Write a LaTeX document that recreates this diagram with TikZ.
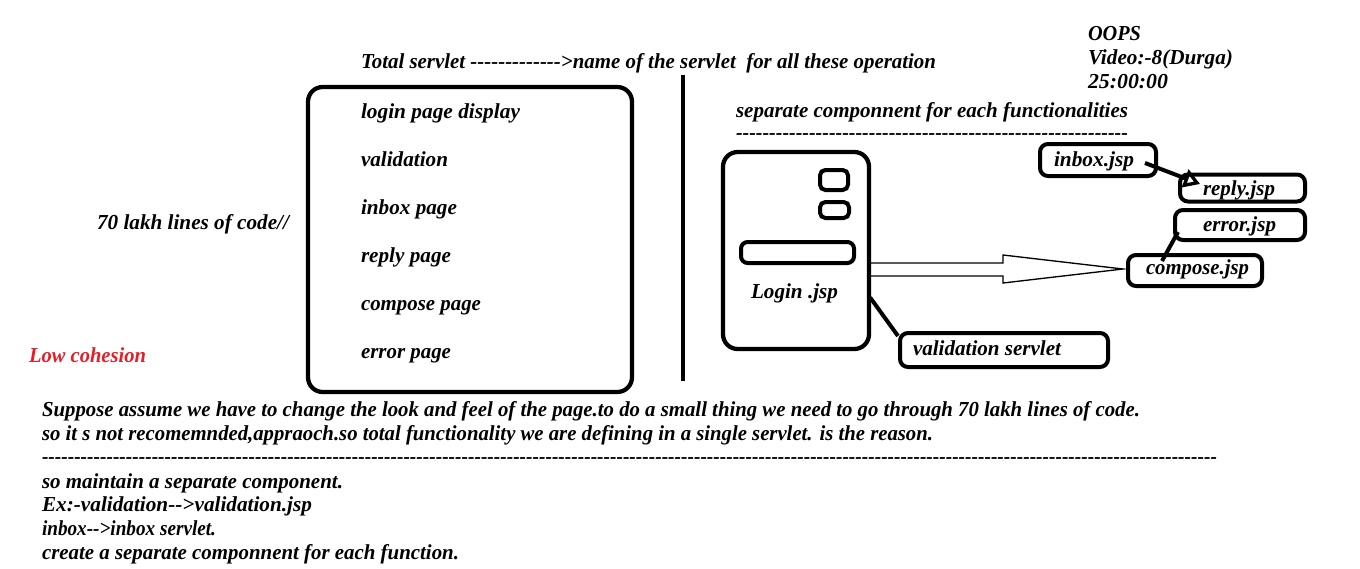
\documentclass[tikz,border=0pt]{standalone}
\usepackage{fontspec}
\setmainfont{Liberation Serif}[Ligatures=TeXOff]
\usepackage{graphicx}
\usetikzlibrary{arrows.meta,calc}
\definecolor{lowred}{RGB}{228,30,42}
\newsavebox\fitbox
\newcommand\fitto[2]{\sbox\fitbox{#2}\pgfmathsetmacro\myfac{(#1)*0.75/\wd\fitbox}\scalebox{\myfac}[1]{\usebox\fitbox}}
\tikzset{
  txt/.style={anchor=base west,inner sep=0pt,outer sep=0pt,font=\fontsize{16}{19}\selectfont\bfseries\itshape},
  bigbox/.style={draw,line width=3.2pt,rounded corners=11pt,inner sep=0pt},
  jbox/.style={draw,line width=3pt,rounded corners=6pt,inner sep=0pt},
  thk/.style={line width=3pt},
}
\begin{document}
\begin{tikzpicture}[x=0.75pt,y=-0.75pt]
\useasboundingbox (0,0) rectangle (1360,568);
% header
\node[txt] (title) at (361,68) {\fitto{575}{Total servlet ------------->name of the servlet\ \ for all these operation}};
\node[txt] (oops) at (1088,40) {\fitto{53}{OOPS}};
\node[txt] (video) at (1088,64) {\fitto{145}{Video:-8(Durga)}};
\node[txt] (time) at (1088,88) {\fitto{80}{25:00:00}};
% left box
\node[bigbox,minimum width=324*0.75pt,minimum height=305*0.75pt] (servlet) at (470,239.5) {};
\node[txt] (i1) at (361,118) {\fitto{159}{login page display}};
\node[txt] (i2) at (361,166) {\fitto{87}{validation}};
\node[txt] (i3) at (361,214) {\fitto{96}{inbox page}};
\node[txt] (i4) at (361,262) {\fitto{90}{reply page}};
\node[txt] (i5) at (361,310) {\fitto{120}{compose page}};
\node[txt] (i6) at (361,358) {\fitto{90}{error page}};
\node[txt] (lakh) at (97,229) {\fitto{192}{70 lakh lines of code//}};
\node[txt,text=lowred] (low) at (29,362) {\fitto{117}{Low cohesion}};
% divider
\coordinate (dtop) at (683,75);
\coordinate (dbot) at (683,381);
\draw[line width=3pt] (dtop) -- (dbot);
% right side
\node[txt] (sep) at (736,117) {\fitto{392}{separate componnent for each functionalities}};
\node[txt] (sepd) at (736,139) {\fitto{392}{-----------------------------------------------------------}};
\node[bigbox,minimum width=146*0.75pt,minimum height=197*0.75pt] (login) at (796,250.5) {};
\node[jbox,rounded corners=4pt,minimum width=28*0.75pt,minimum height=20*0.75pt] (b1) at (834,180) {};
\node[jbox,rounded corners=4pt,minimum width=29*0.75pt,minimum height=16*0.75pt] (b2) at (834.5,210) {};
\node[jbox,rounded corners=5pt,minimum width=113*0.75pt,minimum height=21*0.75pt] (b3) at (797.5,252.5) {};
\node[txt] (logint) at (751,298) {\fitto{87}{Login .jsp}};
\node[jbox,minimum width=208*0.75pt,minimum height=34*0.75pt] (valid) at (1004,350) {};
\node[txt] (validt) at (913,355) {\fitto{148}{validation servlet}};
\node[jbox,minimum width=116*0.75pt,minimum height=32*0.75pt] (inbox) at (1098,160) {};
\node[txt] (inboxt) at (1054,166) {\fitto{80}{inbox.jsp}};
\node[jbox,minimum width=125*0.75pt,minimum height=27*0.75pt] (reply) at (1242.5,188) {};
\node[txt] (replyt) at (1203,195) {\fitto{72}{reply.jsp}};
\node[jbox,minimum width=130*0.75pt,minimum height=30*0.75pt] (error) at (1240,225) {};
\node[txt] (errort) at (1203,231) {\fitto{73}{error.jsp}};
\node[jbox,minimum width=134*0.75pt,minimum height=31*0.75pt] (compose) at (1195,270.5) {};
\node[txt] (composet) at (1146,274) {\fitto{103}{compose.jsp}};
% connectors
\draw[thk] ($(login.east)+(-1,47)$) -- ($(valid.west)+(0,-14)$);
\draw[line width=1pt] ($(login.east)+(0,12.5)$) -- (1003,263) -- (1003,255) -- ($(compose.west)+(-3,-1.5)$) -- (1003,283) -- (1003,276) -- ($(login.east)+(0,25.5)$);
\draw[thk,-{Triangle[open,length=12pt,width=14pt,line width=2.5pt]}] ($(inbox.east)+(-13,3)$) -- ($(reply.west)+(22,-4)$);
\draw[thk] ($(error.west)+(5,7)$) -- ($(compose.north west)+(36,8)$);
% bottom text
\node[txt] (s1) at (42,416) {\fitto{1098}{Suppose assume we have to change the look and feel of the page.to do a small thing we need to go through 70 lakh lines of code.}};
\node[txt] (s2) at (42,440) {\fitto{891}{so it s not recomemnded,appraoch.so total functionality we are defining in a single servlet. is the reason.}};
\node[txt] (s3) at (42,463) {\fitto{1175}{--------------------------------------------------------------------------------------------------------------------------------------------------------------------------------------}};
\node[txt] (s4) at (42,488) {\fitto{301}{so maintain a separate component.}};
\node[txt] (s5) at (42,511) {\fitto{270}{Ex:-validation-->validation.jsp}};
\node[txt] (s6) at (42,535) {\fitto{174}{inbox-->inbox servlet.}};
\node[txt] (s7) at (42,559) {\fitto{417}{create a separate componnent for each function.}};
\end{tikzpicture}
\end{document}
